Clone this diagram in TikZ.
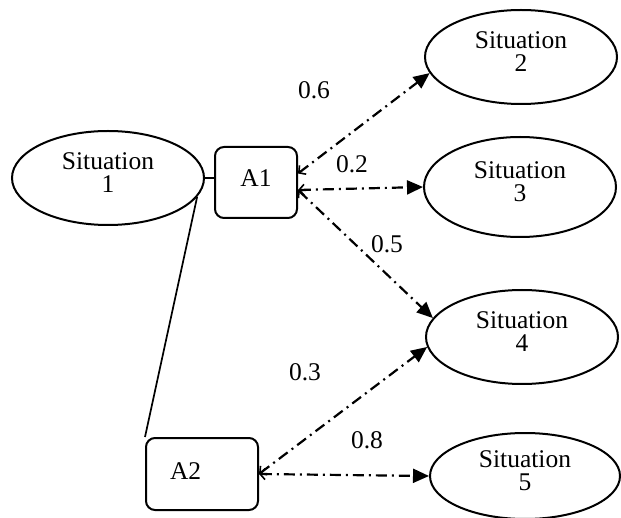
\documentclass[tikz,border=0pt]{standalone}
\usepackage{fontspec}
\setmainfont{Liberation Serif}
\usetikzlibrary{shapes.geometric,arrows.meta}
\tikzset{
  sit/.style={draw,line width=2pt,ellipse,minimum width=192pt,minimum height=94pt,inner sep=0pt,align=center,
    text depth=10pt,font=\fontsize{25.5}{23}\selectfont},
  act/.style={draw,line width=2pt,rounded corners=9pt,inner sep=0pt,font=\fontsize{25.5}{25}\selectfont},
  prob/.style={font=\fontsize{25.5}{25}\selectfont,inner sep=0pt},
  dd/.style={line width=2.2pt,dash pattern=on 11pt off 5pt on 2pt off 5pt,
    {Straight Barb[length=5pt,width=11pt,line width=1.6pt]}-{Triangle[length=16pt,width=14pt]}},
  plain/.style={line width=1.7pt}
}
\begin{document}
\begin{tikzpicture}[x=1pt,y=-1pt]
\useasboundingbox (0,0) rectangle (621,518);
\node[sit] (s1) at (108,178) {Situation\\1};
\node[sit] (s2) at (521,57) {Situation\\2};
\node[sit,minimum height=100pt] (s3) at (520,187) {Situation\\3};
\node[sit] (s4) at (522,337) {Situation\\4};
\node[sit,minimum width=190pt,minimum height=86pt] (s5) at (525,476) {Situation\\5};
\node[act,minimum width=82pt,minimum height=71pt,text depth=8pt] (a1) at (256,182.5) {A1};
\node[act,minimum width=112pt,minimum height=72pt,text width=64pt,align=left,text depth=6pt] (a2) at (202,474) {A2};
\node[prob] (p6) at (314,90) {0.6};
\node[prob] (p2) at (352,164) {0.2};
\node[prob] (p5) at (387,244) {0.5};
\node[prob] (p3) at (305,372) {0.3};
\node[prob] (p8) at (367,440) {0.8};
\draw[plain] (s1.east) -- (a1.west |- s1.east);
\draw[plain] (s1.-12) -- (a2.north west);
\draw[dd] ([yshift=9pt]a1.east) -- (s2.190);
\draw[dd] ([yshift=-7.5pt]a1.east) -- (s3.west);
\draw[dd] ([yshift=-7.5pt]a1.east) -- (s4.168);
\draw[dd] (a2.east) -- (s4.186);
\draw[dd] (a2.east) -- (s5.west);
\end{tikzpicture}
\end{document}
